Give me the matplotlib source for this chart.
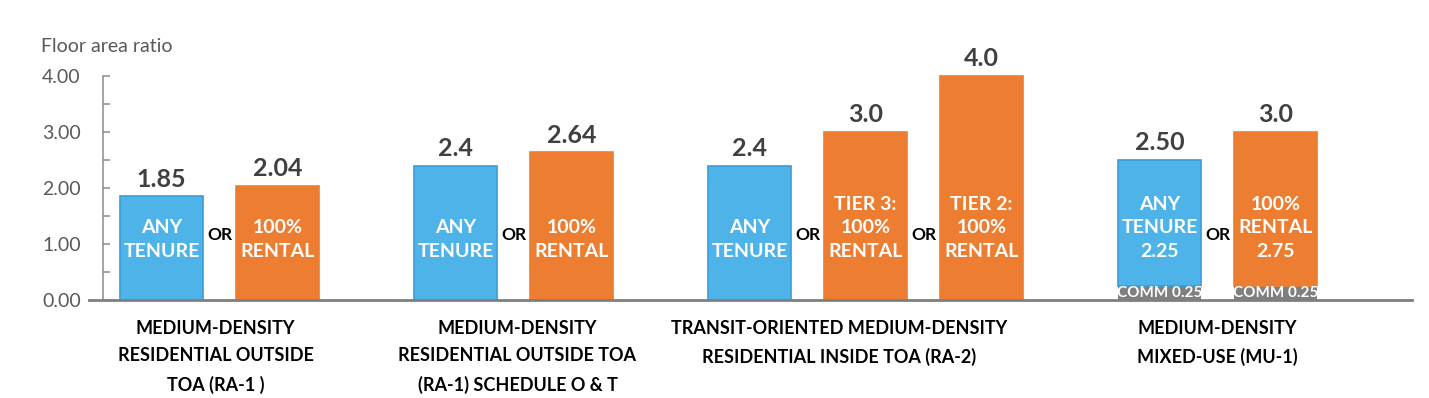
import matplotlib
matplotlib.use("Agg")
import matplotlib.pyplot as plt

plt.rcParams['font.family'] = ['Lato', 'DejaVu Sans']

# ---------------- data ----------------
group_labels = [
    "MEDIUM-DENSITY\nRESIDENTIAL OUTSIDE\nTOA (RA-1 )",
    "MEDIUM-DENSITY\nRESIDENTIAL OUTSIDE TOA\n(RA-1) SCHEDULE O & T",
    "TRANSIT-ORIENTED MEDIUM-DENSITY\nRESIDENTIAL INSIDE TOA (RA-2)",
    "MEDIUM-DENSITY\nMIXED-USE (MU-1)",
]
bar_group = [0, 0, 1, 1, 2, 2, 2, 3, 3]
bar_kind = ["any", "rental", "any", "rental", "any", "rental", "rental", "any", "rental"]
bar_values = [1.85, 2.04, 2.4, 2.64, 2.4, 3.0, 4.0, 2.5, 3.0]
value_labels = ["1.85", "2.04", "2.4", "2.64", "2.4", "3.0", "4.0", "2.50", "3.0"]
comm_values = [0, 0, 0, 0, 0, 0, 0, 0.25, 0.25]
comm_labels = ["", "", "", "", "", "", "", "COMM 0.25", "COMM 0.25"]
inner_labels = [
    "ANY\nTENURE", "100%\nRENTAL",
    "ANY\nTENURE", "100%\nRENTAL",
    "ANY\nTENURE", "TIER 3:\n100%\nRENTAL", "TIER 2:\n100%\nRENTAL",
    "ANY\nTENURE\n2.25", "100%\nRENTAL\n2.75",
]
y_ticks = [0, 1, 2, 3, 4]
y_label = "Floor area ratio"

# ---------------- style ----------------
colors = {"any": "#4DB3E9", "rental": "#ED7D31"}
edges = {"any": "#3B9BDA", "rental": "#ED7D31"}
comm_color = "#7F7F7F"
group_label_dx = [-4, 4, -26, 0]  # horizontal nudge of group captions (px)

W, H = 1429, 398
fig = plt.figure(figsize=(W / 100, H / 100), dpi=100)
x_left, x_right = 89, 1412
y0_px, px_per_unit = 300, 56
ymax = 4.2
ax = fig.add_axes([x_left / W, 1 - y0_px / H, (x_right - x_left) / W,
                   ymax * px_per_unit / H])
ax.set_xlim(x_left, x_right)
ax.set_ylim(0, ymax)

# layout of bars (horizontal units = pixels)
start, width, gap, group_gap = 120, 83, 33, 95
positions = []
cur = start
prev_g = bar_group[0]
for i, g in enumerate(bar_group):
    if i > 0:
        cur += width + (gap if g == prev_g else group_gap)
    positions.append(cur + width / 2)
    prev_g = g

for i, (x, v, k) in enumerate(zip(positions, bar_values, bar_kind)):
    c = comm_values[i]
    if c > 0:
        ax.bar(x, c, width=width, bottom=0, color=comm_color, linewidth=0, zorder=2)
    ax.bar(x, v - c, width=width, bottom=c, color=colors[k], edgecolor=edges[k],
           linewidth=1.2, zorder=2)
    ax.text(x, v + 0.1, value_labels[i], ha="center", va="bottom", fontsize=18,
            fontweight="bold", color="#404040")
    ax.text(x, 0.72, inner_labels[i], ha="center", va="bottom", fontsize=14,
            fontweight="bold", color="white", linespacing=1.45, zorder=3)
    if comm_labels[i]:
        ax.text(x, c / 2, comm_labels[i], ha="center", va="center", fontsize=11,
                fontweight="bold", color="white", zorder=3)

# "OR" between bars of the same group
for i in range(len(positions) - 1):
    if bar_group[i] == bar_group[i + 1]:
        xm = (positions[i] + positions[i + 1]) / 2
        ax.text(xm, 1.16, "OR", ha="center", va="center", fontsize=12.5,
                fontweight="bold", color="black")

# group labels
for g, lab in enumerate(group_labels):
    xs = [p for p, gg in zip(positions, bar_group) if gg == g]
    xc = (min(xs) + max(xs)) / 2 + group_label_dx[g]
    ax.text(xc, -0.35, lab, ha="center", va="top", fontsize=13, fontweight="bold",
            color="black", linespacing=1.75, clip_on=False)

# axes styling
for s in ["top", "right"]:
    ax.spines[s].set_visible(False)
ax.spines["left"].set_position(("data", 103))
ax.spines["left"].set_color("#8C8C8C")
ax.spines["left"].set_linewidth(1.1)
ax.spines["bottom"].set_color("#7F7F7F")
ax.spines["bottom"].set_linewidth(2.0)
ax.spines["left"].set_bounds(0, 4)
ax.set_xticks([])
ax.set_yticks(y_ticks)
ax.set_yticks([0.5, 1.5, 2.5, 3.5], minor=True)
ax.set_yticklabels([f"{t:.2f}" for t in y_ticks])
ax.tick_params(axis="y", which="both", direction="in", length=5, width=1.1,
               color="#8C8C8C", labelsize=14, labelcolor="#595959", pad=16)

fig.text(41 / W, 1 - 46 / H, y_label, ha="left", va="center", fontsize=14,
         color="#595959")

fig.savefig("out.png", dpi=100)
